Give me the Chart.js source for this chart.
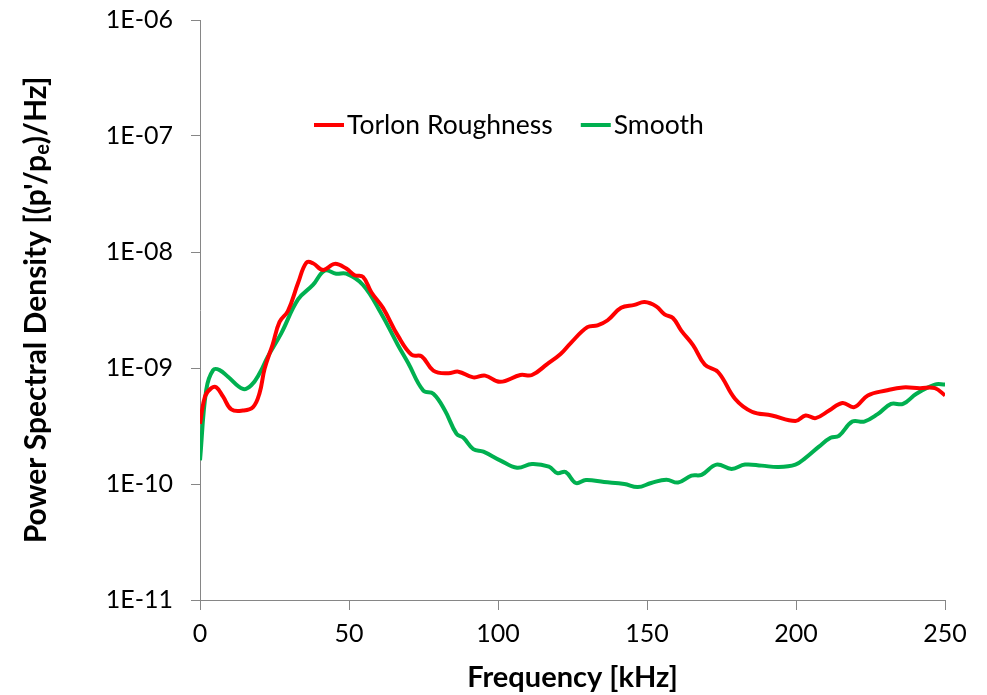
<!DOCTYPE html>
<html>
<head>
<meta charset="utf-8">
<script src="https://cdn.jsdelivr.net/npm/chart.js@4.4.0/dist/chart.umd.min.js"></script>
<style>
  html, body { margin: 0; padding: 0; background: #fff; }
  #wrap { width: 987px; height: 695px; }
</style>
</head>
<body>
<div id="wrap"><canvas id="psd"></canvas></div>
<script>
// values (frequency in kHz, PSD in (p'/pe)^2/Hz)
const roughFreq = [0, 1.7, 3.8, 5.5, 7.7, 10.5, 14.4, 17.8, 20, 21.7, 24.4, 26.7, 29.5, 32.9, 35.7, 37.9, 41.3, 45.2, 49.1, 51.9, 54.7, 57.5, 61.4, 66.4, 71, 74.4, 78.3, 83.3, 86.7, 91.7, 95.7, 100.7, 107.5, 111.4, 116.5, 121, 124.4, 130, 133.4, 136.8, 141.3, 145.8, 149.2, 153.1, 155.9, 158.7, 161.5, 165.5, 169.4, 173.9, 179.6, 185.2, 191.9, 199.8, 203.2, 206.6, 211.1, 215.6, 219.5, 224.1, 230.2, 235.9, 241.5, 246.6, 250];
const roughPsd = [3.3e-10, 5.7e-10, 6.7e-10, 6.8e-10, 5.7e-10, 4.4e-10, 4.3e-10, 4.6e-10, 6.1e-10, 9.9e-10, 1.6e-9, 2.5e-9, 3.1e-9, 5.4e-9, 8.1e-9, 8.0e-9, 7.0e-9, 7.9e-9, 7.2e-9, 6.3e-9, 6.1e-9, 4.5e-9, 3.3e-9, 1.9e-9, 1.3e-9, 1.26e-9, 9.5e-10, 9.0e-10, 9.3e-10, 8.3e-10, 8.6e-10, 7.6e-10, 8.7e-10, 8.7e-10, 1.08e-9, 1.32e-9, 1.64e-9, 2.25e-9, 2.33e-9, 2.58e-9, 3.3e-9, 3.5e-9, 3.7e-9, 3.4e-9, 2.9e-9, 2.7e-9, 2.1e-9, 1.57e-9, 1.07e-9, 9.2e-10, 5.4e-10, 4.2e-10, 3.9e-10, 3.5e-10, 3.9e-10, 3.7e-10, 4.3e-10, 5.0e-10, 4.6e-10, 5.8e-10, 6.4e-10, 6.8e-10, 6.7e-10, 6.7e-10, 5.8e-10];

const smoothFreq = [0, 2.1, 4.4, 6.6, 9.4, 14.4, 17.2, 20, 22.8, 27.3, 32.9, 37.9, 41.8, 45.7, 49.1, 54.7, 60.8, 66.4, 69.9, 74.9, 78.3, 82.2, 86.1, 88.4, 91.7, 95.1, 100.7, 106.4, 111.4, 117.1, 119.9, 122.7, 126.1, 129.5, 135.6, 142.4, 146.9, 151.4, 156.5, 160.4, 164.9, 168.3, 173.3, 178.4, 182.9, 188.5, 194.2, 199.8, 203.2, 207.7, 211.6, 214.4, 218.9, 222.9, 227.4, 231.9, 235.9, 240.4, 246.6, 250];
const smoothPsd = [1.6e-10, 6.5e-10, 9.6e-10, 9.6e-10, 8.4e-10, 6.6e-10, 7.1e-10, 9.0e-10, 1.26e-9, 2.0e-9, 3.9e-9, 5.2e-9, 6.9e-9, 6.5e-9, 6.5e-9, 5.2e-9, 2.95e-9, 1.58e-9, 1.1e-9, 6.4e-10, 6.0e-10, 4.3e-10, 2.7e-10, 2.5e-10, 2.0e-10, 1.9e-10, 1.6e-10, 1.38e-10, 1.49e-10, 1.41e-10, 1.24e-10, 1.27e-10, 1.02e-10, 1.08e-10, 1.04e-10, 1.0e-10, 9.4e-11, 1.02e-10, 1.09e-10, 1.03e-10, 1.18e-10, 1.2e-10, 1.47e-10, 1.35e-10, 1.47e-10, 1.44e-10, 1.40e-10, 1.47e-10, 1.68e-10, 2.1e-10, 2.5e-10, 2.6e-10, 3.45e-10, 3.45e-10, 4.0e-10, 4.9e-10, 4.9e-10, 6.0e-10, 7.2e-10, 7.2e-10];

const xTicks = [0, 50, 100, 150, 200, 250];
const yTicks = [1e-11, 1e-10, 1e-9, 1e-8, 1e-7, 1e-6];

const FONT = 'Lato, "Open Sans", sans-serif';
const axisGrey = '#868686';

const pts = (xs, ys) => xs.map((x, i) => ({ x: x, y: ys[i] }));

// legend drawn inside the plot, like the excel one
const innerLegend = {
  id: 'innerLegend',
  afterDraw(chart) {
    const c = chart.ctx;
    const a = chart.chartArea;
    const y = a.top + 105;
    let x = a.left + 114;
    c.save();
    c.font = '26.5px ' + FONT;
    c.textBaseline = 'middle';
    chart.data.datasets.forEach((ds) => {
      c.strokeStyle = ds.borderColor;
      c.lineWidth = 4;
      c.beginPath();
      c.moveTo(x, y);
      c.lineTo(x + 30, y);
      c.stroke();
      c.fillStyle = '#000';
      c.fillText(ds.label, x + 33, y);
      x += 33 + c.measureText(ds.label).width + 28;
    });
    c.restore();
  }
};

// y title with the subscript e
const yTitle = {
  id: 'yTitle',
  afterDraw(chart) {
    const c = chart.ctx;
    const a = chart.chartArea;
    const parts = [
      ['Power Spectral Density [(p\'/p', 0, 30],
      ['e', 7, 20],
      [')/Hz]', 0, 30]
    ];
    c.save();
    let total = 0;
    parts.forEach((p) => { c.font = 'bold ' + p[2] + 'px ' + FONT; total += c.measureText(p[0]).width; });
    c.translate(36, (a.top + a.bottom) / 2);
    c.rotate(-Math.PI / 2);
    c.fillStyle = '#000';
    c.textBaseline = 'middle';
    let x = -total / 2;
    parts.forEach((p) => {
      c.font = 'bold ' + p[2] + 'px ' + FONT;
      c.fillText(p[0], x, p[1]);
      x += c.measureText(p[0]).width;
    });
    c.restore();
  }
};

new Chart(document.getElementById('psd'), {
  type: 'line',
  data: {
    datasets: [
      { label: 'Torlon Roughness', data: pts(roughFreq, roughPsd), borderColor: '#ff0000', borderWidth: 4, pointRadius: 0, tension: 0.4, fill: false },
      { label: 'Smooth', data: pts(smoothFreq, smoothPsd), borderColor: '#00b050', borderWidth: 4, pointRadius: 0, tension: 0.4, fill: false }
    ]
  },
  options: {
    responsive: true,
    maintainAspectRatio: false,
    animation: false,
    layout: { padding: { top: 20, right: 42, bottom: 0, left: 0 } },
    plugins: { legend: { display: false }, tooltip: { enabled: false } },
    scales: {
      x: {
        type: 'linear',
        min: 0,
        max: 250,
        afterBuildTicks: (s) => { s.ticks = xTicks.map((v) => ({ value: v })); },
        afterFit: (s) => { s.height = 95; },
        grid: { drawOnChartArea: false, drawTicks: true, tickLength: 10, color: axisGrey },
        border: { display: true, color: axisGrey, width: 1 },
        ticks: { color: '#000', font: { family: FONT, size: 25 }, padding: 9, maxRotation: 0 },
        title: { display: true, text: 'Frequency [kHz]', color: '#000', font: { family: FONT, size: 29, weight: 'bold' }, padding: { top: 0, bottom: 0 } }
      },
      y: {
        type: 'logarithmic',
        min: 1e-11,
        max: 1e-6,
        afterBuildTicks: (s) => { s.ticks = yTicks.map((v) => ({ value: v })); },
        afterFit: (s) => { s.width = 200; s.paddingTop = 0; s.paddingBottom = 0; },
        grid: { drawOnChartArea: false, drawTicks: true, tickLength: 9, color: axisGrey },
        border: { display: true, color: axisGrey, width: 1 },
        ticks: {
          color: '#000',
          font: { family: FONT, size: 25 },
          padding: 18,
          callback: (v) => '1E-' + String(Math.round(-Math.log10(v))).padStart(2, '0')
        }
      }
    }
  },
  plugins: [innerLegend, yTitle]
});
</script>
</body>
</html>
